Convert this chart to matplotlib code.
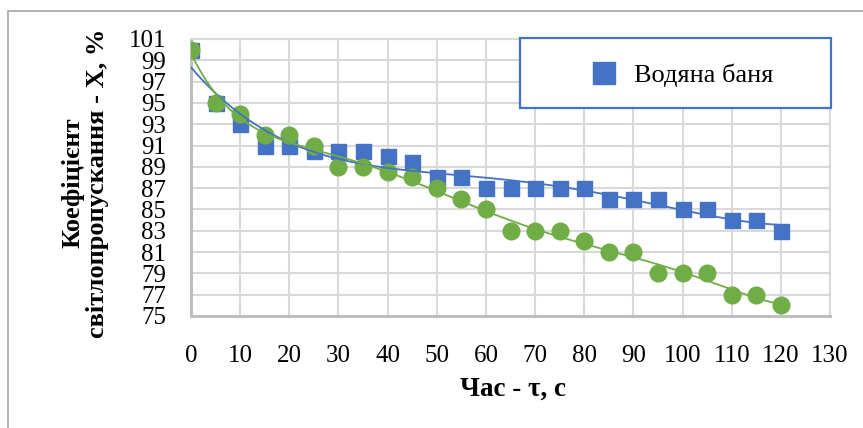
import numpy as np
import matplotlib
matplotlib.use("Agg")
import matplotlib.pyplot as plt
from matplotlib.patches import Rectangle
from matplotlib.lines import Line2D

# ---- data ----
time_s = [0, 5, 10, 15, 20, 25, 30, 35, 40, 45, 50, 55, 60, 65, 70, 75, 80,
          85, 90, 95, 100, 105, 110, 115, 120]
water_bath = [100, 95, 93, 91, 91, 90.5, 90.5, 90.5, 90, 89.5, 88, 88, 87, 87,
              87, 87, 87, 86, 86, 86, 85, 85, 84, 84, 83]
second_series = [100, 95, 94, 92, 92, 91, 89, 89, 88.5, 88, 87, 86, 85, 83,
                 83, 83, 82, 81, 81, 79, 79, 79, 77, 77, 76]
x_ticks = list(range(0, 131, 10))
y_ticks = [101 - 2 * i for i in range(14)]
legend_label = "Водяна баня"
x_label = "Час - τ, с"
y_label = "Коефіцієнт\nсвітлопропускання - Х, %"

BLUE = "#4472C4"
GREEN = "#70AD47"

plt.rcParams['font.family'] = ['Liberation Serif', 'DejaVu Serif']

W, H = 863, 428
fig = plt.figure(figsize=(W / 100, H / 100), dpi=100)
ax = fig.add_axes([191 / W, 1 - 316 / H, (830 - 191) / W, (316 - 39) / H])

x = np.array(time_s, dtype=float)
xs = np.linspace(0, 120, 300)

# polynomial trendlines (as in the Excel chart)
pb = np.polyfit(x, water_bath, 4)
pg = np.polyfit(x, second_series, 6)

ax.plot(x, water_bath, linestyle='none', marker='s', markersize=10.8,
        color=BLUE, zorder=3)
ax.plot(x, second_series, linestyle='none', marker='o', markersize=12,
        color=GREEN, zorder=4)
ax.plot(xs, np.polyval(pb, xs), color=BLUE, lw=1.3, zorder=5)
ax.plot(xs, np.polyval(pg, xs), color=GREEN, lw=1.3, zorder=6)

ax.set_xlim(0, 130)
ax.set_ylim(75, 101)
ax.set_xticks(x_ticks)
ax.set_yticks(y_ticks)
ax.set_yticklabels([str(v) for v in y_ticks])
ax.grid(True, color='#D9D9D9', lw=1.5, zorder=0)
ax.set_axisbelow(True)
ax.tick_params(axis='both', length=0, labelsize=18, colors='black')
ax.tick_params(axis='x', pad=21)
ax.tick_params(axis='y', pad=18)
for s in ['top', 'right']:
    ax.spines[s].set_color('#D9D9D9')
    ax.spines[s].set_linewidth(1.5)
for s in ['left', 'bottom']:
    ax.spines[s].set_color('#BFBFBF')
    ax.spines[s].set_linewidth(2.2)

# axis titles
fig.text(513 / W, 1 - 389 / H, x_label, ha='center', va='center',
         fontsize=19.5, fontweight='bold')
fig.text(85 / W, 1 - 183 / H, y_label, ha='center', va='center',
         fontsize=19, fontweight='bold', rotation=90, multialignment='center',
         linespacing=1.1)

# legend frame
fig.patches.append(Rectangle((520 / W, 1 - 108 / H), (831 - 520) / W, (108 - 38) / H,
                             transform=fig.transFigure, facecolor='white',
                             edgecolor=BLUE, lw=1.6, zorder=10))
handle = Line2D([], [], linestyle='none', marker='s', markersize=15.5, color=BLUE)
leg = fig.legend([handle], [legend_label], loc='center left',
                 bbox_to_anchor=(588 / W, 1 - 75 / H), frameon=False,
                 fontsize=19, handletextpad=0.55, handlelength=1.2,
                 borderpad=0, borderaxespad=0)
leg.set_zorder(11)

# outer chart border
fig.patches.append(Rectangle((8 / W, -0.2), 1.2, 1.2 - 11 / H,
                             transform=fig.transFigure, facecolor='none',
                             edgecolor='#A6A6A6', lw=1.2, zorder=0))

fig.savefig("out.png", dpi=100)
